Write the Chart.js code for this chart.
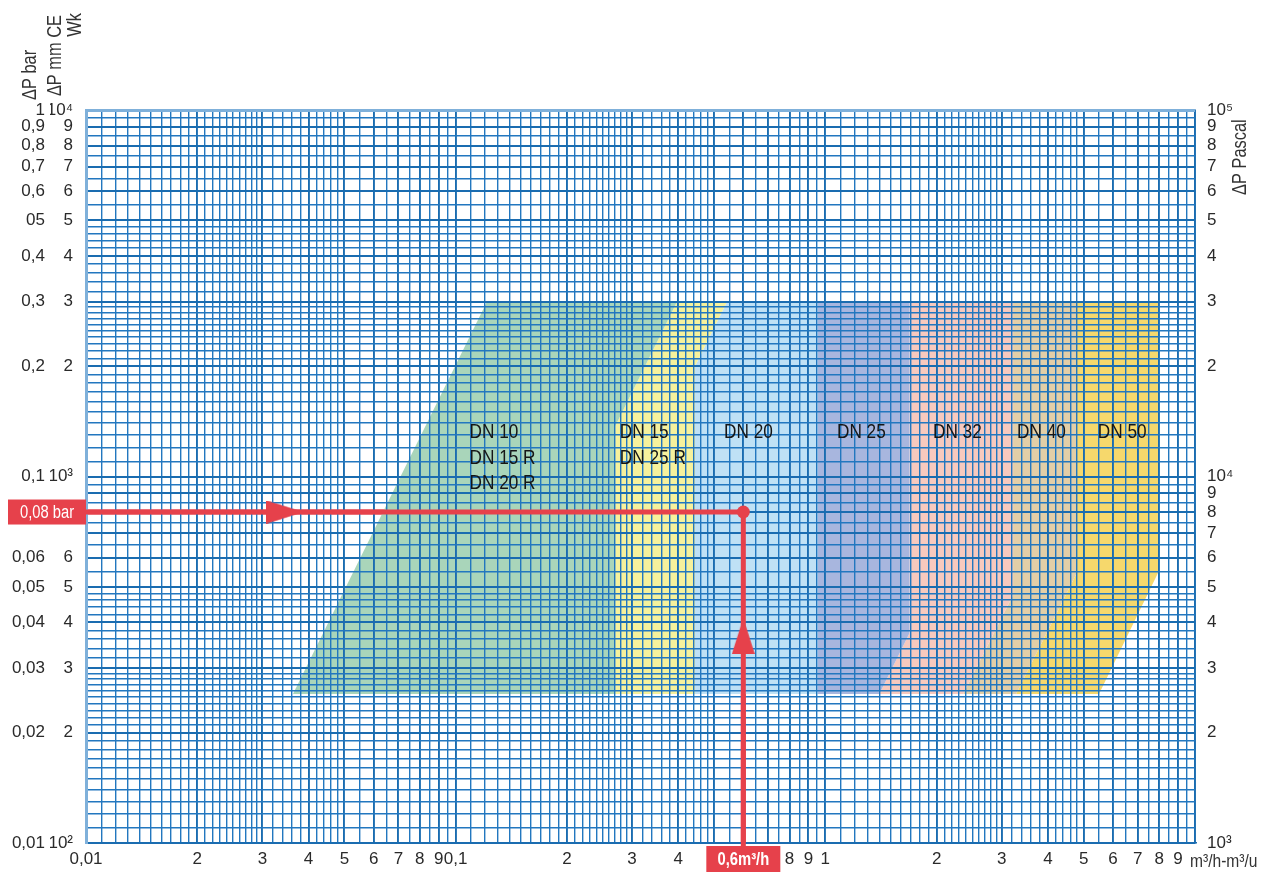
<!DOCTYPE html>
<html>
<head>
<meta charset="utf-8">
<script src="https://cdn.jsdelivr.net/npm/chart.js@4.4.1/dist/chart.umd.min.js"></script>
<style>
    html, body { margin: 0; padding: 0; background: #fff; }
    #wrap { position: relative; width: 1266px; height: 872px; }
</style>
</head>
<body>
<div id="wrap"><canvas id="chart"></canvas></div>
<script>
// axis range
const xMin = 0.01, xMax = 10
const yMin = 0.01, yMax = 1

// grid density inside each decade: [from, to, step]
const gridSteps = [[1, 3, 0.1], [3, 5, 0.2], [5, 10, 0.5]]

// tick labels
const xLabelValues = [0.01, 0.02, 0.03, 0.04, 0.05, 0.06, 0.07, 0.08, 0.09, 0.1, 0.2, 0.3, 0.4, 0.8, 0.9, 1, 2, 3, 4, 5, 6, 7, 8, 9]
const xLabelTexts = ['0,01', '2', '3', '4', '5', '6', '7', '8', '9', '0,1', '2', '3', '4', '8', '9', '1', '2', '3', '4', '5', '6', '7', '8', '9']
const yBarValues = [1, 0.9, 0.8, 0.7, 0.6, 0.5, 0.4, 0.3, 0.2, 0.1, 0.06, 0.05, 0.04, 0.03, 0.02, 0.01]
const yBarTexts = ['1', '0,9', '0,8', '0,7', '0,6', '05', '0,4', '0,3', '0,2', '0,1', '0,06', '0,05', '0,04', '0,03', '0,02', '0,01']
const yMmValues = [1, 0.9, 0.8, 0.7, 0.6, 0.5, 0.4, 0.3, 0.2, 0.1, 0.06, 0.05, 0.04, 0.03, 0.02, 0.01]
const yMmTexts = ['10⁴', '9', '8', '7', '6', '5', '4', '3', '2', '10³', '6', '5', '4', '3', '2', '10²']
const yPaValues = [1, 0.9, 0.8, 0.7, 0.6, 0.5, 0.4, 0.3, 0.2, 0.1, 0.09, 0.08, 0.07, 0.06, 0.05, 0.04, 0.03, 0.02, 0.01]
const yPaTexts = ['10⁵', '9', '8', '7', '6', '5', '4', '3', '2', '10⁴', '9', '8', '7', '6', '5', '4', '3', '2', '10³']

// DN zones (flow m3/h, pressure drop bar) - visible outline of each band
const dn10Q = [0.0363, 0.1215, 0.397, 0.270, 0.270]
const dn10P = [0.0255, 0.3, 0.3, 0.137, 0.0255]
const dn15Q = [0.270, 0.270, 0.397, 0.542, 0.444, 0.444]
const dn15P = [0.0255, 0.137, 0.3, 0.3, 0.2, 0.0255]
const dn20Q = [0.444, 0.444, 0.542, 0.955, 0.955]
const dn20P = [0.0255, 0.2, 0.3, 0.3, 0.0255]
const dn25Q = [0.955, 0.955, 1.69, 1.69, 1.40]
const dn25P = [0.0255, 0.3, 0.3, 0.0374, 0.0255]
const dn32Q = [1.40, 1.69, 1.69, 3.22, 3.22, 2.36]
const dn32P = [0.0255, 0.0374, 0.3, 0.3, 0.0475, 0.0255]
const dn40Q = [2.36, 3.22, 3.22, 4.79, 4.79, 3.28]
const dn40P = [0.0255, 0.0475, 0.3, 0.3, 0.0545, 0.0255]
const dn50Q = [3.28, 4.79, 4.79, 7.94, 7.94, 5.5]
const dn50P = [0.0255, 0.0545, 0.3, 0.3, 0.0545, 0.0255]
const zoneColors = ['#a9d5ba', '#f6f19c', '#bfe1f5', '#a8b6de', '#f7c9be', '#e2cea7', '#f6d86c']

// DN labels
const dnLabelQ = [0.109, 0.278, 0.532, 1.075, 1.955, 3.30, 5.46]
const dnLabelP = [0.132, 0.132, 0.132, 0.132, 0.132, 0.132, 0.132]
const dnLabelLines = [['DN 10', 'DN 15 R', 'DN 20 R'], ['DN 15', 'DN 25 R'], ['DN 20'], ['DN 25'], ['DN 32'], ['DN 40'], ['DN 50']]

// example reading: 0,6 m3/h -> 0,08 bar
const readPathQ = [0.01, 0.6, 0.6]
const readPathP = [0.08, 0.08, 0.01]
const arrowQ = [0.0344, 0.6]
const arrowP = [0.08, 0.0367]
const arrowRot = [0, -90]
const readFlowText = '0,6m³/h'
const readDpText = '0,08 bar'

const redColor = '#e6414b'
const gridColor = '#2277bf'
const fontFamily = "'Liberation Sans', Arial, sans-serif"
const narrow = 0.82 // condensed look for canvas text

Chart.defaults.font.family = fontFamily

function buildGrid(min, max) {
    let ticks = []
    for (let d = min; d < max * 0.999; d *= 10) {
        gridSteps.forEach(function (s) {
            for (let m = s[0]; m < s[1] - 1e-9; m += s[2]) {
                ticks.push(+(m * d).toPrecision(6))
            }
        })
    }
    ticks.push(max)
    return ticks
}
const xGrid = buildGrid(xMin, xMax)
const yGrid = buildGrid(yMin, yMax)

function labelFor(values, texts, v) {
    for (let i = 0; i < values.length; i++) {
        if (Math.abs(values[i] - v) < v * 1e-6) return texts[i]
    }
    return ''
}

function isMajor(v) {
    let m = v / Math.pow(10, Math.floor(Math.log10(v) + 1e-9))
    return Math.abs(m - Math.round(m)) < 1e-6
}

function toPoints(q, p) {
    return q.map(function (x, i) { return { x: x, y: p[i] } })
}

// arrow head used as point style
const arrowImg = (function () {
    const c = document.createElement('canvas')
    c.width = 36
    c.height = 23
    const g = c.getContext('2d')
    g.fillStyle = redColor
    g.beginPath()
    g.moveTo(0, 0)
    g.lineTo(36, 11.5)
    g.lineTo(0, 23)
    g.closePath()
    g.fill()
    return c
})()

let datasets = []
const zoneQ = [dn10Q, dn15Q, dn20Q, dn25Q, dn32Q, dn40Q, dn50Q]
const zoneP = [dn10P, dn15P, dn20P, dn25P, dn32P, dn40P, dn50P]
zoneQ.forEach(function (q, i) {
    datasets.push({
        data: toPoints(q, zoneP[i]),
        fill: 'shape',
        backgroundColor: zoneColors[i],
        borderColor: 'rgba(0,0,0,0)',
        borderWidth: 0,
        pointRadius: 0,
        yAxisID: 'yMm'
    })
})
datasets.push({
    data: toPoints(readPathQ, readPathP),
    borderColor: redColor,
    borderWidth: 5,
    borderJoinStyle: 'miter',
    pointRadius: [0, 6.5, 0],
    pointBackgroundColor: redColor,
    pointBorderWidth: 0,
    fill: false,
    yAxisID: 'yMm',
    onTop: true
})
arrowQ.forEach(function (q, i) {
    datasets.push({
        data: [{ x: q, y: arrowP[i] }],
        showLine: false,
        pointStyle: arrowImg,
        rotation: arrowRot[i],
        pointRadius: 12,
        yAxisID: 'yMm',
        onTop: true
    })
})

// condensed text, optionally rotated
function drawText(ctx, text, x, y, align, rotated) {
    ctx.save()
    ctx.translate(x, y)
    if (rotated) ctx.rotate(-Math.PI / 2)
    ctx.scale(narrow, 1)
    ctx.textAlign = align
    ctx.textBaseline = 'middle'
    ctx.fillText(text, 0, 0)
    ctx.restore()
}

// red line, labels and titles on top of the grid
const overlayPlugin = {
    id: 'overlay',
    afterDraw(chart) {
        const ctx = chart.ctx
        const xs = chart.scales.x
        const ys = chart.scales.yMm
        const area = chart.chartArea

        chart.data.datasets.forEach(function (ds, i) {
            if (ds.onTop) chart.getDatasetMeta(i).controller.draw()
        })

        // DN labels
        ctx.save()
        ctx.fillStyle = '#161616'
        ctx.font = '21px ' + fontFamily
        dnLabelLines.forEach(function (lines, i) {
            let px = xs.getPixelForValue(dnLabelQ[i])
            let py = ys.getPixelForValue(dnLabelP[i])
            lines.forEach(function (t, j) {
                drawText(ctx, t, px, py + j * 25.5, 'left', false)
            })
        })
        ctx.restore()

        // red reading boxes
        ctx.save()
        ctx.fillStyle = redColor
        let by = ys.getPixelForValue(readPathP[0])
        ctx.fillRect(8, by - 12.5, area.left - 8, 25)
        let bx = xs.getPixelForValue(readPathQ[1])
        ctx.fillRect(bx - 2.5, area.bottom, 5, 4)
        ctx.fillRect(bx - 37, area.bottom + 3, 74, 26)
        ctx.fillStyle = '#fff'
        ctx.font = '18px ' + fontFamily
        drawText(ctx, readDpText, (8 + area.left) / 2, by + 1, 'center', false)
        ctx.font = 'bold 18px ' + fontFamily
        drawText(ctx, readFlowText, bx, area.bottom + 17, 'center', false)
        ctx.restore()

        // axis titles
        ctx.save()
        ctx.fillStyle = '#333'
        ctx.font = '20px ' + fontFamily
        drawText(ctx, 'ΔP bar', 30, 100, 'left', true)
        drawText(ctx, 'ΔP mm CE', 55, 15, 'right', true)
        drawText(ctx, 'Wk', 75, 13, 'right', true)
        drawText(ctx, 'ΔP Pascal', 1240, 195, 'left', true)
        ctx.font = '19px ' + fontFamily
        drawText(ctx, 'm³/h-m³/u', 1190, 862, 'left', false)
        ctx.restore()
    }
}

function gridLineColor(ctx, edgeValue) {
    let v = ctx.tick.value
    if (Math.abs(v - edgeValue) < 1e-9) return '#7fb0da'
    return isMajor(v) ? '#1a6cb0' : gridColor
}
function gridLineWidth(ctx, edgeValue) {
    let v = ctx.tick.value
    if (Math.abs(v - edgeValue) < 1e-9) return 3
    return isMajor(v) ? 1.9 : 1.4
}

const tickFont = { size: 17 }
const tickColor = '#2a2a2a'

new Chart(document.getElementById('chart'), {
    type: 'line',
    data: { datasets: datasets },
    options: {
        responsive: true,
        maintainAspectRatio: false,
        animation: false,
        events: [],
        layout: { padding: { top: 110, left: 0, right: 0, bottom: 0 } },
        plugins: {
            legend: { display: false },
            tooltip: { enabled: false }
        },
        scales: {
            x: {
                type: 'logarithmic',
                position: 'bottom',
                min: xMin,
                max: xMax,
                afterBuildTicks: function (scale) {
                    scale.ticks = xGrid.map(function (v) { return { value: v } })
                },
                afterFit: function (scale) { scale.height = 29 },
                grid: {
                    z: 1,
                    drawTicks: false,
                    color: function (ctx) { return gridLineColor(ctx, xMin) },
                    lineWidth: function (ctx) { return gridLineWidth(ctx, xMin) }
                },
                border: { color: '#1a6cb0', width: 1.5, z: 2 },
                ticks: {
                    autoSkip: false,
                    maxRotation: 0,
                    padding: 6,
                    color: tickColor,
                    font: tickFont,
                    callback: function (value) { return labelFor(xLabelValues, xLabelTexts, value) }
                }
            },
            yMm: {
                type: 'logarithmic',
                position: 'left',
                weight: 0,
                min: yMin,
                max: yMax,
                afterBuildTicks: function (scale) {
                    scale.ticks = yGrid.map(function (v) { return { value: v } })
                },
                afterFit: function (scale) { scale.width = 36 },
                grid: {
                    z: 1,
                    drawTicks: false,
                    color: function (ctx) { return gridLineColor(ctx, yMax) },
                    lineWidth: function (ctx) { return gridLineWidth(ctx, yMax) }
                },
                border: { color: '#7fb0da', width: 3, z: 2 },
                ticks: {
                    autoSkip: false,
                    padding: 13,
                    color: tickColor,
                    font: tickFont,
                    callback: function (value) { return labelFor(yMmValues, yMmTexts, value) }
                }
            },
            yBar: {
                type: 'logarithmic',
                position: 'left',
                weight: 1,
                min: yMin,
                max: yMax,
                afterBuildTicks: function (scale) {
                    scale.ticks = yBarValues.map(function (v) { return { value: v } })
                },
                afterFit: function (scale) { scale.width = 50 },
                grid: { display: false, drawTicks: false },
                border: { display: false },
                ticks: {
                    autoSkip: false,
                    padding: 5,
                    color: tickColor,
                    font: tickFont,
                    callback: function (value) { return labelFor(yBarValues, yBarTexts, value) }
                }
            },
            yPa: {
                type: 'logarithmic',
                position: 'right',
                min: yMin,
                max: yMax,
                afterBuildTicks: function (scale) {
                    scale.ticks = yPaValues.map(function (v) { return { value: v } })
                },
                afterFit: function (scale) { scale.width = 71 },
                grid: { display: false, drawTicks: false },
                border: { color: '#1a6cb0', width: 1.5 },
                ticks: {
                    autoSkip: false,
                    padding: 12,
                    color: tickColor,
                    font: tickFont,
                    callback: function (value) { return labelFor(yPaValues, yPaTexts, value) }
                }
            }
        }
    },
    plugins: [overlayPlugin]
})
</script>
</body>
</html>
